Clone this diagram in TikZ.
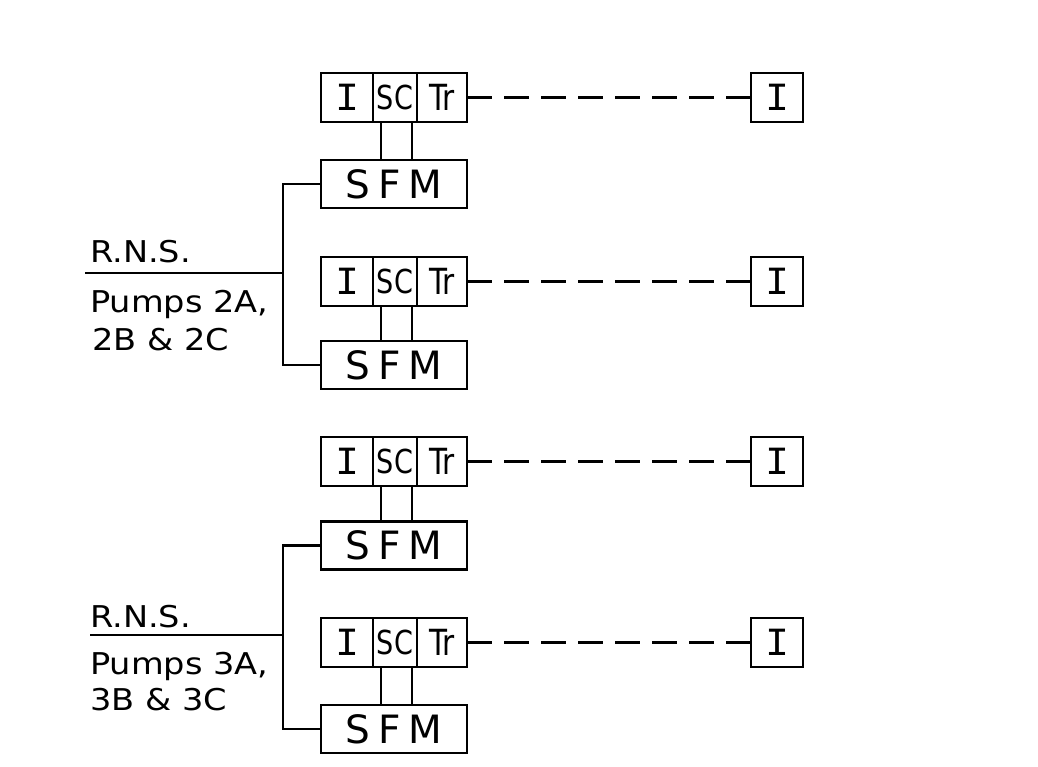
\documentclass[tikz,border=0pt]{standalone}
\usepackage{fontspec}
\usetikzlibrary{calc}
\newfontfamily\handw[FakeStretch=1.12]{DejaVu Sans}
\newfontfamily\handn{DejaVu Sans}
\newfontfamily\handc[FakeStretch=0.82]{DejaVu Sans}
\newfontfamily\handi{Liberation Mono}
\begin{document}
\begin{tikzpicture}[x=1pt,y=-1pt,
  cell/.style={draw, line width=2.6pt, inner sep=0pt, outer sep=0pt, minimum height=49pt},
  icell/.style={cell, minimum width=52pt, font=\handi\fontsize{40}{40}\selectfont},
  sccell/.style={cell, minimum width=44pt, font=\handc\fontsize{33}{33}\selectfont},
  trcell/.style={cell, minimum width=50pt, font=\handc\fontsize{36}{36}\selectfont},
  sfmbox/.style={cell, minimum width=146pt, minimum height=48pt, font=\handn\fontsize{39}{39}\selectfont},
  lbl/.style={anchor=base west, inner sep=0pt, font=\handw\fontsize{30}{30}\selectfont},
  wire/.style={line width=2.2pt},
  link/.style={line width=2.4pt, dash pattern=on 25pt off 12pt}]
\useasboundingbox[fill=white] (0,0) rectangle (1038,767);

% groups
\foreach \g/\yb/\ys in {1/97.5/184, 2/281.5/365, 3/461.5/545.5, 4/642.5/729}{
  \node[icell] (i\g) at (347,\yb) {I};
  \node[sccell] (sc\g) at (395,\yb) {SC};
  \node[trcell] (tr\g) at (442,\yb) {Tr};
  \node[sfmbox] (sfm\g) at (394,\ys) {S\hspace{8pt}F\hspace{8pt}M};
  \node[icell] (r\g) at (777,\yb) {I};
  \coordinate (ca\g) at ($(sc\g.south west)+(8pt,0)$);
  \coordinate (cb\g) at ($(sc\g.south east)+(-5pt,0)$);
  \draw[wire] (ca\g) -- (ca\g |- sfm\g.north);
  \draw[wire] (cb\g) -- (cb\g |- sfm\g.north);
  \draw[link] (tr\g.east) -- (r\g.west);
}

% brackets
\coordinate (bx) at (283,0);
\draw[wire] (sfm1.west) -- (sfm1.west -| bx) -- (sfm2.west -| bx) -- (sfm2.west);
\draw[wire] (sfm3.west) -- (sfm3.west -| bx) -- (sfm4.west -| bx) -- (sfm4.west);
\coordinate (la) at (85,273);
\coordinate (lb) at (90,635);
\draw[wire] (la) -- (la -| bx);
\draw[wire] (lb) -- (lb -| bx);

% labels
\node[lbl] (t1) at (90,262) {R.N.S.};
\node[lbl] (t2) at (90,312) {Pumps 2A,};
\node[lbl] (t3) at (92,350) {2B \& 2C};
\node[lbl] (t4) at (90,627) {R.N.S.};
\node[lbl] (t5) at (90,674) {Pumps 3A,};
\node[lbl] (t6) at (90,710) {3B \& 3C};
\end{tikzpicture}
\end{document}
